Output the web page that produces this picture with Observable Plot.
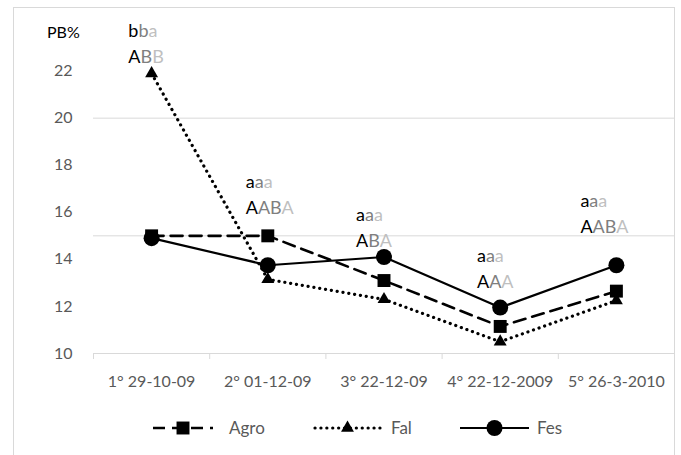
<!DOCTYPE html>
<html><head><meta charset="utf-8">
<script src="https://cdn.jsdelivr.net/npm/d3@7"></script>
<script src="https://cdn.jsdelivr.net/npm/@observablehq/plot@0.6"></script>
<style>body{margin:0;background:#fff} #chart{width:681px;height:455px;overflow:hidden;position:relative}</style>
</head><body><div id="chart"></div>
<script>
// ---- data ----
const categories = ["1° 29-10-09", "2° 01-12-09", "3° 22-12-09", "4° 22-12-2009", "5° 26-3-2010"];
const agro = [15.0, 15.0, 13.1, 11.15, 12.65];
const fal  = [21.9, 13.15, 12.3, 10.5, 12.25];
const fes  = [14.9, 13.75, 14.1, 11.95, 13.75];
const yTicks = [10, 12, 14, 16, 18, 20, 22];
const gridValues = [15, 20];
// significance letters (per series) – lowercase row and uppercase row
const lowerAgro = ["b", "a", "a", "a", "a"];
const lowerFal  = ["b", "a", "a", "a", "a"];
const lowerFes  = ["a", "a", "a", "a", "a"];
const upperAgro = ["A", "A", "A", "A", "A"];
const upperFal  = ["B", "AB", "B", "A", "AB"];
const upperFes  = ["B", "A", "A", "A", "A"];
const seriesNames = ["Agro", "Fal", "Fes"];
const letterColors = ["#000000", "#7f7f7f", "#bfbfbf"];

// annotation anchors (value units) as placed in the original
const annotY = [22.58, 16.16, 14.76, 13.02, 15.35];
const annotShift = [-0.2, -0.19, -0.24, -0.2, -0.31];

const idx = d3.range(categories.length);
const bounds = d3.range(categories.length + 1).map(i => i - 0.5);

const agroStyle = {stroke: "black", strokeWidth: 2.6, strokeDasharray: "12,7"};
const falStyle = {stroke: "black", strokeWidth: 3.2, strokeDasharray: "0.1,5.8", strokeLinecap: "round"};
const fesStyle = {stroke: "black", strokeWidth: 2.2};

const chart = Plot.plot({
  width: 681, height: 455,
  marginLeft: 93, marginRight: 7, marginTop: 0, marginBottom: 102,
  style: {fontFamily: "Lato, sans-serif", background: "white"},
  x: {type: "linear", domain: [-0.5, 4.5], axis: null},
  y: {domain: [10, 25], axis: null},
  marks: [
    Plot.ruleY(gridValues, {stroke: "#d9d9d9", strokeWidth: 1}),
    Plot.ruleY([10], {stroke: "#d9d9d9", strokeWidth: 1.2}),
    Plot.axisX(bounds, {tickSize: 6, tickFormat: () => "", stroke: "#d9d9d9", label: null}),
    Plot.axisX(idx, {tickSize: 0, tickPadding: 22, tickFormat: i => categories[i], fontSize: 16, fill: "#595959", label: null}),
    Plot.axisY(yTicks, {tickSize: 0, tickPadding: 21, fontSize: 16, fill: "#595959", label: null}),
    Plot.line(idx, {x: i => i, y: i => agro[i], ...agroStyle}),
    Plot.dot(idx, {x: i => i, y: i => agro[i], symbol: "square", r: 7.3, fill: "black"}),
    Plot.line(idx, {x: i => i, y: i => fal[i], ...falStyle}),
    Plot.dot(idx, {x: i => i, y: i => fal[i], symbol: "triangle", r: 4.8, fill: "black"}),
    Plot.line(idx, {x: i => i, y: i => fes[i], ...fesStyle}),
    Plot.dot(idx, {x: i => i, y: i => fes[i], symbol: "circle", r: 8, fill: "black"}),
    Plot.text(idx, {x: i => i + annotShift[i], y: i => annotY[i], text: i => upperAgro[i] + upperFal[i] + upperFes[i],
      textAnchor: "start", lineAnchor: "middle", fontSize: 18, className: "upper-letters"}),
    Plot.text(idx, {x: i => i + annotShift[i], y: i => annotY[i], dy: -26, text: i => lowerAgro[i] + lowerFal[i] + lowerFes[i],
      textAnchor: "start", lineAnchor: "middle", fontSize: 18, className: "lower-letters"})
  ]
});

const svg = d3.select(chart);

// colour the letters per series
function colorLetters(cls, groups) {
  svg.selectAll(`g.${cls} text`).each(function(d, j) {
    const i = typeof d === "number" ? d : j;
    const t = d3.select(this);
    t.text(null);
    groups.forEach((g, k) => t.append("tspan").attr("fill", letterColors[k]).text(g[i]));
  });
}
colorLetters("upper-letters", [upperAgro, upperFal, upperFes]);
colorLetters("lower-letters", [lowerAgro, lowerFal, lowerFes]);

// outer chart border
svg.insert("rect", ":first-child").attr("x", 13.5).attr("y", 7.5).attr("width", 661).attr("height", 470)
  .attr("fill", "white").attr("stroke", "#d9d9d9");

// y label
svg.append("text").attr("x", 47).attr("y", 32).attr("dy", "0.35em").attr("text-anchor", "start")
  .attr("font-size", 16).attr("fill", "black").text("PB%");

// legend
const legY = 428;
const legend = svg.append("g").attr("font-family", "Lato, sans-serif").attr("text-anchor", "start");
const legItems = [
  {x1: 153, x2: 213, name: seriesNames[0], style: agroStyle, sym: d3.symbolSquare, r: 7.3, tx: 229},
  {x1: 315, x2: 380, name: seriesNames[1], style: falStyle, sym: d3.symbolTriangle, r: 4.8, tx: 391},
  {x1: 460, x2: 529, name: seriesNames[2], style: fesStyle, sym: d3.symbolCircle, r: 8, tx: 537}
];
legItems.forEach(it => {
  const l = legend.append("line").attr("x1", it.x1).attr("x2", it.x2).attr("y1", legY).attr("y2", legY)
    .attr("stroke", "black").attr("stroke-width", it.style.strokeWidth);
  if (it.style.strokeDasharray) l.attr("stroke-dasharray", it.style.strokeDasharray);
  if (it.style.strokeLinecap) l.attr("stroke-linecap", it.style.strokeLinecap);
  legend.append("path").attr("d", d3.symbol(it.sym, Math.PI * it.r * it.r)())
    .attr("transform", `translate(${(it.x1 + it.x2) / 2},${legY})`).attr("fill", "black");
  legend.append("text").attr("x", it.tx).attr("y", legY).attr("dy", "0.35em").attr("font-size", 17)
    .attr("fill", "#595959").text(it.name);
});

document.getElementById("chart").appendChild(chart);
</script>
</body></html>
